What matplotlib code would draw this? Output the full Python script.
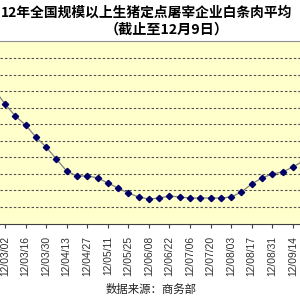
"""
Weekly average white-strip pork price, 2012 (cropped view)
"""

import datetime as dt
import matplotlib
matplotlib.use('Agg')
import matplotlib.dates as mdates
from matplotlib import pyplot as plt

plt.rcParams['font.family'] = ['Noto Sans CJK SC', 'DejaVu Sans']

# Data (weekly)
start = dt.date(2012, 2, 24)
prices = [
    26.06, 25.22, 24.49, 23.95, 23.22, 22.62, 21.89, 21.17, 20.87, 20.87,
    20.76, 20.45, 20.14, 19.84, 19.60, 19.48, 19.54, 19.66, 19.60, 19.54,
    19.54, 19.54, 19.54, 19.60, 19.90, 20.39, 20.75, 20.99, 21.11, 21.41,
    21.77,
]
dates = [start + dt.timedelta(days=7 * i) for i in range(len(prices))]

tick_dates = [dt.date(2012, 3, 2) + dt.timedelta(days=14 * i) for i in range(15)]
grid_levels = list(range(19, 29))

title_text = '12年全国规模以上生猪定点屠宰企业白条肉平均'
subtitle_text = '（截止至12月9日）'
source_text = '数据来源：商务部'

# Figure
fig = plt.figure(figsize=(3, 3), dpi=100)
ax = fig.add_axes([0, 0.255, 1, 0.607])
ax.set_facecolor('#FFFFCC')

ax.plot(
    dates,
    prices,
    color='#808080',
    linewidth=0.9,
    marker='D',
    markersize=3.2,
    markerfacecolor='#000066',
    markeredgecolor='#000066',
    zorder=3
)

ax.set_ylim(18, 29)
ax.set_yticks(grid_levels)
ax.yaxis.grid(True, color='#505050', linestyle=(0, (2.2, 1.8)), linewidth=0.8)
ax.tick_params(axis='y', left=False, labelleft=False)

x0 = dt.date(2012, 3, 2)
ax.set_xlim(
    mdates.date2num(x0) - 3.4,
    mdates.date2num(x0) + 200.9
)
ax.set_xticks(tick_dates)
ax.xaxis.set_major_formatter(mdates.DateFormatter('%y/%m/%d'))
ax.tick_params(
    axis='x',
    direction='out',
    length=3,
    width=0.8,
    color='#404040',
    labelsize=7.4,
    labelcolor='#303030',
    labelrotation=90,
    pad=6
)
for lab in ax.get_xticklabels():
    lab.set_family(['Liberation Sans', 'DejaVu Sans'])

for side in ['left', 'right']:
    ax.spines[side].set_visible(False)
ax.spines['top'].set_color('#909090')
ax.spines['bottom'].set_color('#404040')

# Texts
fig.text(0.003, 0.958, title_text, fontsize=9.9, fontweight='bold',
         ha='left', va='center')
fig.text(0.555, 0.9, subtitle_text, fontsize=10.2, fontweight='bold',
         ha='center', va='center')
fig.text(0.505, 0.037, source_text, fontsize=8.2,
         ha='center', va='center', color='#202020')

fig.savefig('out.png', dpi=100)
